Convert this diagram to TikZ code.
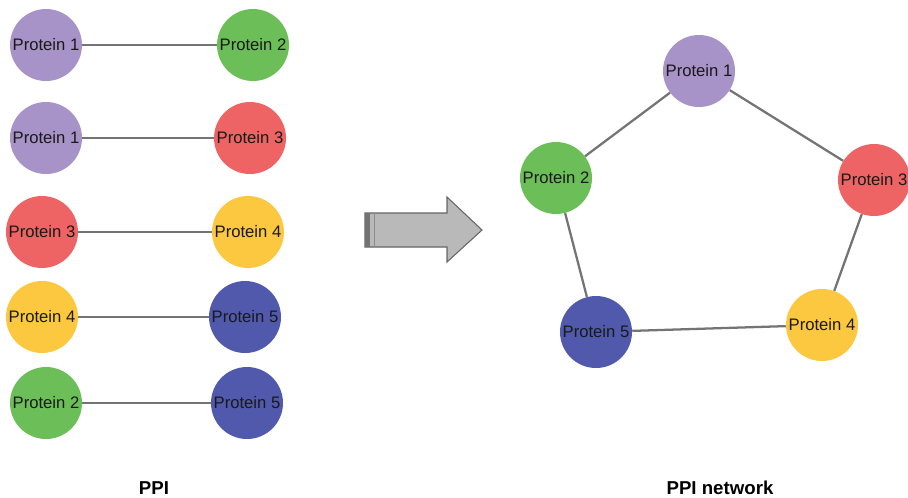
\documentclass[tikz,border=0pt]{standalone}
\usepackage{fontspec}
\setmainfont{Liberation Sans}
\usepackage{xcolor}
\definecolor{protpurple}{HTML}{A893C8}
\definecolor{protgreen}{HTML}{6CBF58}
\definecolor{protred}{HTML}{EE6363}
\definecolor{protyellow}{HTML}{FCC83F}
\definecolor{protblue}{HTML}{5059AC}
\definecolor{linkgray}{HTML}{747474}

\begin{document}
\begin{tikzpicture}[x=0.75pt,y=-0.75pt,
  prot/.style={circle,inner sep=0pt,minimum size=54pt,text=black!90,
    font=\fontsize{12.5}{14}\selectfont},
  link/.style={draw=linkgray,line width=1.7pt},
  caption/.style={font=\fontsize{14}{16}\selectfont\bfseries}]
\useasboundingbox (0,0) rectangle (908,497);
% pairs on the left
\node[prot,fill=protpurple] (pa1) at (46,45) {Protein 1};
\node[prot,fill=protgreen] (pb1) at (253,45) {Protein 2};
\node[prot,fill=protpurple] (pa2) at (46,138) {Protein 1};
\node[prot,fill=protred] (pb2) at (250,138) {Protein 3};
\node[prot,fill=protred] (pa3) at (42,232) {Protein 3};
\node[prot,fill=protyellow] (pb3) at (248,232) {Protein 4};
\node[prot,fill=protyellow] (pa4) at (42,317) {Protein 4};
\node[prot,fill=protblue] (pb4) at (245,317) {Protein 5};
\node[prot,fill=protgreen] (pa5) at (46,403) {Protein 2};
\node[prot,fill=protblue] (pb5) at (247,403) {Protein 5};
% arrow
\fill[gray!55] (365,213) -- (447,213) -- (447,197) -- (482,230) -- (447,262)
  -- (447,247) -- (365,247) -- cycle;
\draw[black!60,line width=0.8pt] (365,213) -- (447,213) -- (447,197) -- (482,230)
  -- (447,262) -- (447,247) -- (365,247) -- cycle;
\fill[black!55] (365,213) rectangle (370,247);
\draw[black!45,line width=0.6pt] (374,213) -- (374,247);
% network on the right
\node[prot,fill=protpurple] (n1) at (699,71) {Protein 1};
\node[prot,fill=protgreen] (n2) at (556,178) {Protein 2};
\node[prot,fill=protred] (n3) at (874,180) {Protein 3};
\node[prot,fill=protyellow] (n4) at (822,325) {Protein 4};
\node[prot,fill=protblue] (n5) at (596,332) {Protein 5};
% links
\draw[link] (pa1) -- (pb1);
\draw[link] (pa2) -- (pb2);
\draw[link] (pa3) -- (pb3);
\draw[link] (pa4) -- (pb4);
\draw[link] (pa5) -- (pb5);
\draw[link] (n1) -- (n2);
\draw[link] (n1) -- (n3);
\draw[link] (n3) -- (n4);
\draw[link] (n4) -- (n5);
\draw[link] (n5) -- (n2);
% captions
\node[caption] (cap1) at (154,488) {PPI};
\node[caption] (cap2) at (720,488) {PPI network};
\end{tikzpicture}
\end{document}
